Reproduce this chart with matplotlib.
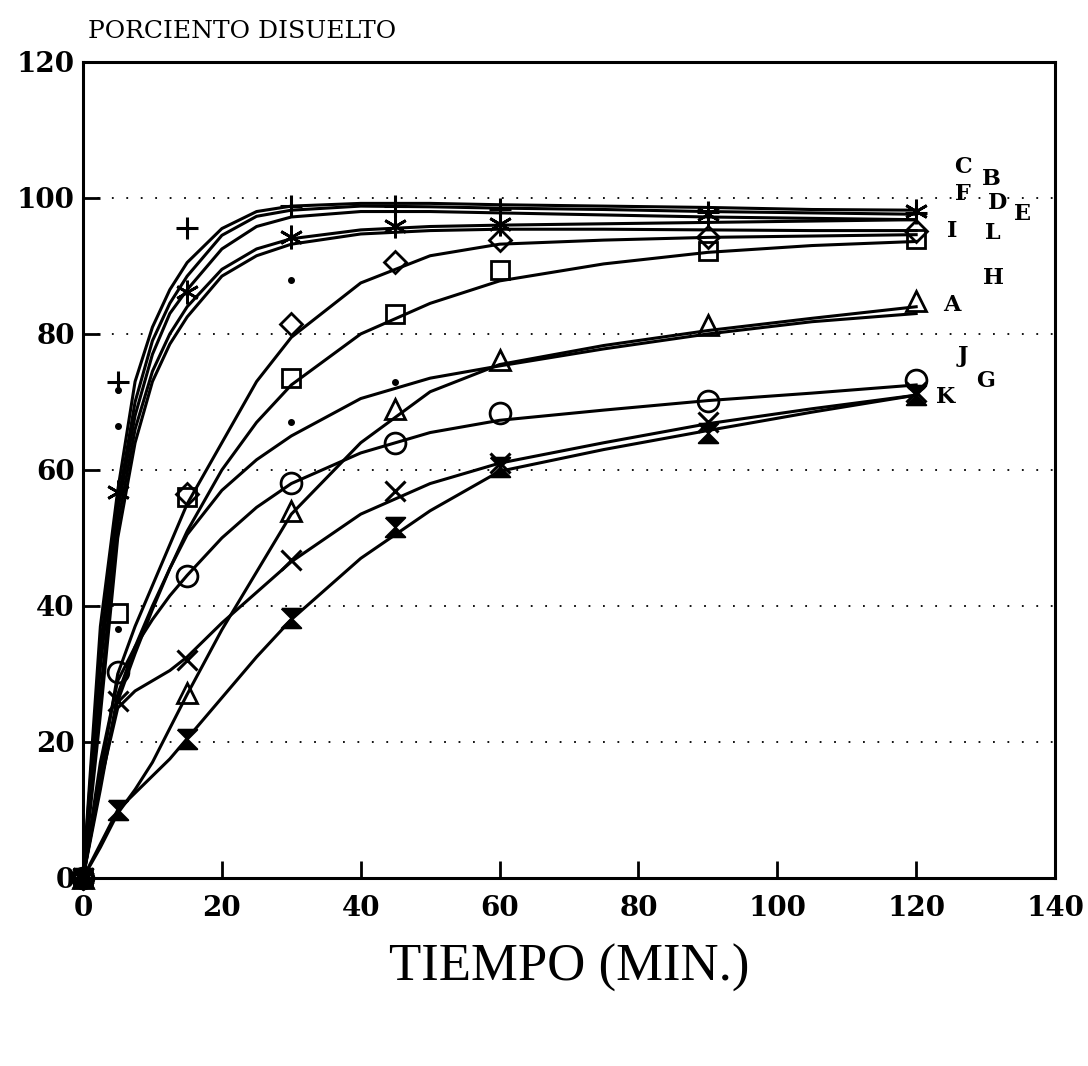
import numpy as np
import matplotlib
matplotlib.use('Agg')
import matplotlib.pyplot as plt

nan = np.nan

# fitted curves at these times (min)
t_curve = [0, 2.5, 5, 7.5, 10, 12.5, 15, 20, 25, 30, 40, 50, 60, 75, 90, 105, 120]
curve_C = [0, 37, 57, 73, 81, 86.5, 90.5, 95.5, 98, 98.8, 99.2, 99.2, 99, 98.8, 98.6, 98.3, 98.2]
curve_B = [0, 34, 55, 70, 79, 84.5, 88.5, 94.5, 97.3, 98.2, 98.8, 98.7, 98.5, 98.3, 98.0, 97.8, 97.6]
curve_F = [0, 31, 54, 68, 77, 83, 86.5, 92.5, 95.8, 97.2, 98.0, 98.0, 97.8, 97.5, 97.2, 97.0, 96.8]
curve_D = [0, 27, 52, 66, 74.5, 80, 84, 89.5, 92.5, 94.0, 95.3, 95.8, 96.0, 96.2, 96.4, 96.6, 96.8]
curve_E = [0, 24, 50, 64, 73, 78.5, 82.5, 88.5, 91.5, 93.2, 94.7, 95.2, 95.4, 95.4, 95.3, 95.2, 95.2]
curve_I = [0, 15, 30, 37, 43, 49, 55, 64, 73, 79.5, 87.5, 91.5, 93.2, 93.8, 94.2, 94.4, 94.6]
curve_L = [0, 13, 27, 34, 40, 45.5, 51, 60, 67, 72.5, 80, 84.5, 87.8, 90.3, 92, 93, 93.6]
curve_H = [0, 14, 26, 33, 39.5, 45.5, 50.5, 57, 61.5, 65, 70.5, 73.5, 75.3, 77.8, 80, 81.8, 83]
curve_A = [0, 4.5, 9.5, 13, 17, 22, 27, 36.5, 45, 53.5, 64, 71.5, 75.5, 78.3, 80.5, 82.3, 84]
curve_J = [0, 17, 29, 34, 38, 41.5, 44.5, 50, 54.5, 58, 62.5, 65.5, 67.3, 68.8, 70.2, 71.3, 72.5]
curve_G = [0, 14, 25, 27.5, 29, 30.5, 32.5, 37.5, 42, 46.5, 53.5, 58, 61, 64, 66.8, 69, 71]
curve_K = [0, 5, 10, 12.5, 15, 17.5, 20.5, 26.5, 32.5, 38, 47, 54, 59.8, 63, 65.8, 68.5, 71]
curves = [curve_C, curve_B, curve_F, curve_D, curve_E, curve_I, curve_L,
          curve_H, curve_A, curve_J, curve_G, curve_K]

# measured points
t_pts = [0, 5, 15, 30, 45, 60, 90, 120]
plus_pts = [0, 73, 95.6, 98.8, 98.8, 98.3, 98, 97.8]
star_pts = [0, 56.7, 86.1, 94.3, 95.9, 96.2, 97.6, 98.1]
diamond_pts = [0, nan, 56.5, 81.5, 90.6, 93.8, 94.2, 95.1]
square_pts = [0, 39, 56, 73.5, 83, 89.4, 92.2, 94]
tri_pts = [0, nan, 27.2, 53.9, 68.9, 76.2, 81.3, 84.8]
circ_pts = [0, 30.3, 44.4, 58.1, 64, 68.4, 70.2, 73.3]
cross_pts = [0, 26, 32, 46.8, 56.9, 61, 67, 71.4]
hour_pts = [0, 10, 20.5, 38.2, 51.6, 60.5, 65.5, 71]
dot_t = [5, 5, 5, 30, 30, 45]
dot_v = [71.8, 66.5, 36.6, 88, 67, 73]

# curve labels at the right end
lab_names = ['C', 'B', 'F', 'D', 'E', 'I', 'L', 'H', 'A', 'J', 'G', 'K']
lab_x = [126.8, 130.9, 126.7, 131.7, 135.3, 125.2, 131.1, 131.1, 125.2, 126.7, 130.0, 124.2]
lab_y = [104.6, 102.8, 100.6, 99.3, 97.6, 95.1, 94.8, 88.2, 84.2, 76.7, 73.1, 70.7]

fig = plt.figure(figsize=(10.88, 10.66), dpi=100)
ax = fig.add_axes([0.0763, 0.1764, 0.8934, 0.7655])

for yv in [20, 40, 60, 80, 100]:
    ax.axhline(yv, color='k', lw=1.3, linestyle=(0, (1, 7)), zorder=1)

for c in curves:
    ax.plot(t_curve, c, '-k', lw=2.2, zorder=2)

mk = dict(color='k', linestyle='none', zorder=3, clip_on=False)
ax.plot(t_pts, plus_pts, marker='+', ms=16, mew=2.2, **mk)
ax.plot(t_pts, star_pts, marker=(6, 2, 0), ms=17, mew=2.0, **mk)
ax.plot(t_pts, diamond_pts, marker='D', ms=11, mew=2.0, mfc='none', **mk)
ax.plot(t_pts, square_pts, marker='s', ms=13, mew=2.0, mfc='none', **mk)
ax.plot(t_pts, tri_pts, marker='^', ms=15, mew=2.0, mfc='none', **mk)
ax.plot(t_pts, circ_pts, marker='o', ms=15, mew=2.0, mfc='none', **mk)
ax.plot(t_pts, cross_pts, marker='x', ms=15, mew=2.2, **mk)
hourglass = [(-1, 1), (1, 1), (-1, -1), (1, -1), (-1, 1)]
ax.plot(t_pts, hour_pts, marker=hourglass, ms=14, mew=1.5, mfc='k', **mk)
ax.plot(dot_t, dot_v, marker='o', ms=4, **mk)

for name, x, y in zip(lab_names, lab_x, lab_y):
    ax.text(x, y, name, ha='center', va='center', fontsize=16,
            fontweight='bold', family='DejaVu Serif')

ax.set_xlim(0, 140)
ax.set_ylim(0, 120)
ax.set_xticks(range(0, 141, 20))
ax.set_yticks(range(0, 121, 20))
ax.tick_params(direction='in', length=12, width=2, top=False, right=False,
               labelsize=20)
ax.tick_params(axis='x', pad=12)
ax.tick_params(axis='y', pad=6)
for lbl in ax.get_xticklabels() + ax.get_yticklabels():
    lbl.set_family('DejaVu Serif')
    lbl.set_fontweight('bold')
for sp in ax.spines.values():
    sp.set_linewidth(2.2)

ax.set_xlabel('TIEMPO (MIN.)', fontsize=38, family='Liberation Serif', labelpad=16)
fig.text(88 / 1088, 1 - 32 / 1066, 'PORCIENTO DISUELTO', ha='left', va='center',
         fontsize=18, family='DejaVu Serif')

fig.savefig('out.png', dpi=100)
